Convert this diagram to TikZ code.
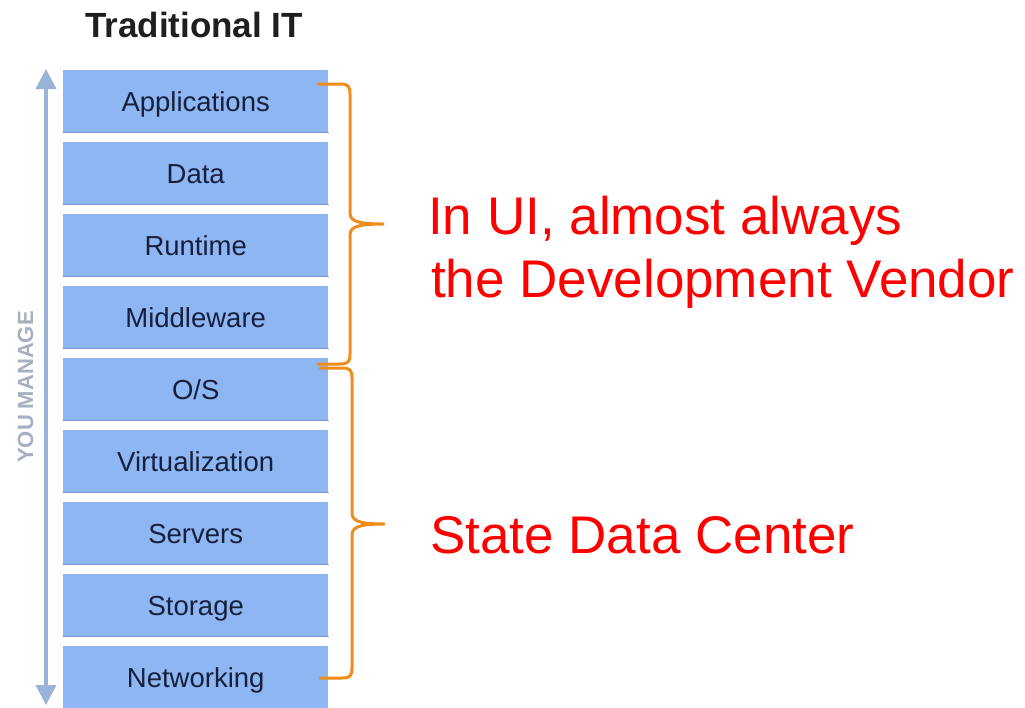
\documentclass[tikz,border=0pt]{standalone}
\usepackage{fontspec}
\setmainfont{Liberation Sans}
\usetikzlibrary{positioning,calc,arrows.meta}
\definecolor{boxblue}{RGB}{141,182,242}
\definecolor{boxedge}{RGB}{122,156,212}
\definecolor{boxtext}{RGB}{22,32,60}
\definecolor{arrowblue}{RGB}{154,179,216}
\definecolor{braceorange}{RGB}{240,140,28}
\definecolor{managegray}{RGB}{166,176,192}
\begin{document}
\begin{tikzpicture}[x=1pt,y=-1pt, line join=round, line cap=round,
	layer/.style={fill=boxblue, anchor=north west, minimum width=265pt, minimum height=62pt, inner sep=0pt,
		text height=20pt, text depth=0pt, text=boxtext, font=\fontsize{27.5}{30}\selectfont},
	note/.style={text=red, anchor=base west, inner sep=0pt, font=\fontsize{53}{64}\selectfont},
	bracepath/.style={draw=braceorange, line width=3pt}]
	\fill[white] (0,0) rectangle (1025,707);
	\useasboundingbox (0,0) rectangle (1025,707);
	% titel
	\node[text height=25pt, text depth=0pt, inner sep=0pt, font=\bfseries\fontsize{35}{40}\selectfont, text=black!88] (title) at (194,24.5) {Traditional IT};
	% stapel
	\foreach \t [count=\i from 0] in {Applications,Data,Runtime,Middleware,O/S,Virtualization,Servers,Storage,Networking}{
		\node[layer] (L\i) at (63,70+72*\i) {\t};
		\draw[boxedge, line width=1.2pt] (L\i.south west) -- (L\i.south east);
	}
	% pijl links
	\coordinate (arrowtop) at (46,69);
	\coordinate (arrowbot) at (46,705);
	\draw[arrowblue, line width=4pt, line cap=butt, {Triangle[width=20pt,length=20pt]}-{Triangle[width=20pt,length=20pt]}] (arrowtop) -- (arrowbot);
	\node[rotate=90, inner sep=0pt, font=\bfseries\fontsize{22}{24}\selectfont, text=managegray] (manage) at (25.5,387) {YOU MANAGE};
	% accolades
	\coordinate (devtop) at (318,84);  \coordinate (devtip) at (383,224); \coordinate (devbot) at (318,364);
	\coordinate (sdctop) at (320,368); \coordinate (sdctip) at (384,524); \coordinate (sdcbot) at (320,678);
	\draw[bracepath] (devtop) -- ++(22,0) .. controls +(8,0) and +(0,-8) .. ++(10,10)
		-- ($(devtip)+(-33,-12)$) .. controls +(0,8) and +(-29,0) .. (devtip)
		.. controls +(-29,0) and +(0,-8) .. ($(devtip)+(-33,12)$)
		-- ($(devbot)+(32,-10)$) .. controls +(0,8) and +(8,0) .. ++(-10,10) -- (devbot);
	\draw[bracepath] (sdctop) -- ++(22,0) .. controls +(8,0) and +(0,-8) .. ++(10,10)
		-- ($(sdctip)+(-32,-12)$) .. controls +(0,8) and +(-28,0) .. (sdctip)
		.. controls +(-28,0) and +(0,-8) .. ($(sdctip)+(-32,12)$)
		-- ($(sdcbot)+(32,-10)$) .. controls +(0,8) and +(8,0) .. ++(-10,10) -- (sdcbot);
	% tekst rechts
	\node[note] (vendor1) at (428,234) {In UI, almost always};
	\node[note] (vendor2) at (431,297) {the Development Vendor};
	\node[note] (sdc) at (430,553) {State Data Center};
\end{tikzpicture}
\end{document}
